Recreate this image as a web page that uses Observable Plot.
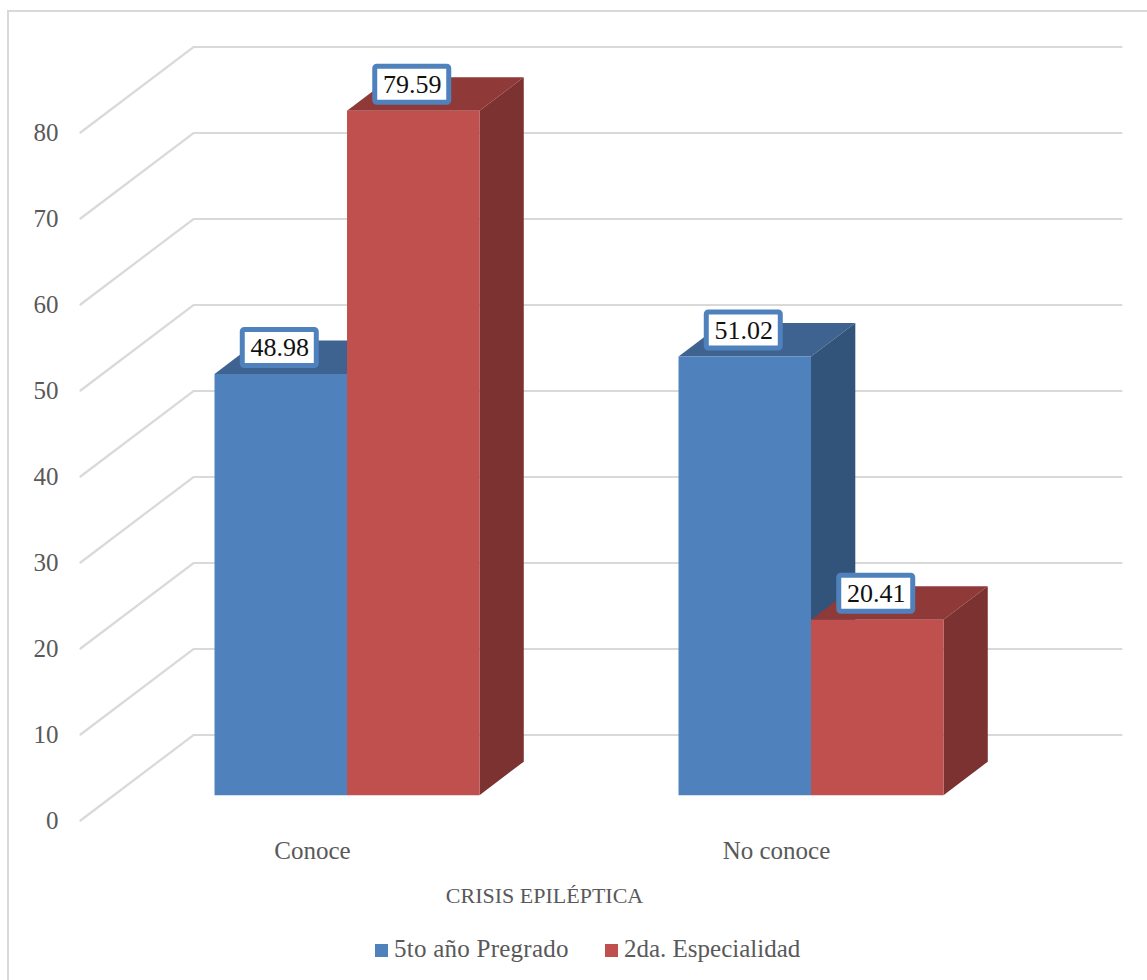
<!DOCTYPE html>
<html lang="es">
<head>
<meta charset="utf-8">
<script src="https://cdn.jsdelivr.net/npm/d3@7"></script>
<script src="https://cdn.jsdelivr.net/npm/@observablehq/plot@0.6"></script>
<style>
  html, body { margin: 0; padding: 0; width: 1147px; height: 980px; overflow: hidden; background: #fff; }
  .frame { position: absolute; left: 7px; top: 10px; width: 1160px; height: 990px; border: 2px solid #d9d9d9; box-sizing: border-box; }
  #chart { position: absolute; left: 0; top: 0; }
  #chart svg { background: transparent; display: block; }
  .legend { position: absolute; left: 0; top: 925px; height: 50px; width: 1147px; font: 25px "Liberation Serif", serif; color: #595959; }
  .legend span { position: absolute; top: 7px; white-space: nowrap; line-height: 34px; }
  .legend i { position: absolute; top: 19px; width: 13px; height: 13px; }
</style>
</head>
<body>
<div class="frame"></div>
<div id="chart"></div>
<div class="legend" id="legend"></div>
<script>
// Survey results: knowledge of epileptic seizures, by student group (%)
const categories = ["Conoce", "No conoce"];
const seriesNames = ["5to año Pregrado", "2da. Especialidad"];
const pregrado = [48.98, 51.02];
const especialidad = [79.59, 20.41];
const yTicks = [0, 10, 20, 30, 40, 50, 60, 70, 80];
const axisTitle = "CRISIS EPILÉPTICA";

// Oblique projection: one unit of depth shifts a point along x and y in data units
const depthX = 0.2435;
const depthY = 9.94;
const project = (p, v, d) => ({x: p + d * depthX, y: v + d * depthY});

// Column layout within each category slot, and its position along the depth axis
const gap = 0.2168, barWidth = 0.2855;
const depthFront = 0.296, depthBack = 0.688;

const palette = [
  {front: "#4f81bd", top: "#3f6390", side: "#32547b"},
  {front: "#c0504d", top: "#8f3a38", side: "#7b3230"}
];

// Three visible faces of a column as closed polygons, back faces first
function faces(cat, s, value) {
  const x0 = cat + gap + s * barWidth, x1 = x0 + barWidth;
  const id = `${cat}-${s}`;
  const c = palette[s];
  const poly = (face, pts) => pts.map(([p, v, d]) => ({...project(p, v, d), id: `${id}-${face}`, color: c[face]}));
  return [
    ...poly("top", [[x0, value, depthFront], [x1, value, depthFront], [x1, value, depthBack], [x0, value, depthBack]]),
    ...poly("side", [[x1, 0, depthFront], [x1, value, depthFront], [x1, value, depthBack], [x1, 0, depthBack]]),
    ...poly("front", [[x0, 0, depthFront], [x1, 0, depthFront], [x1, value, depthFront], [x0, value, depthFront]])
  ];
}

const seriesValues = [pregrado, especialidad];
const polygons = categories.flatMap((_, cat) =>
  seriesValues.flatMap((vals, s) => faces(cat, s, vals[cat])));

// Gridlines run up the left wall and then along the back wall
const grid = yTicks.flatMap(v => [
  {...project(0, v, 0), v},
  {...project(0, v, 1), v},
  {...project(2, v, 1), v}
]);

// Value labels sit centred above each column's front edge
const labelLift = 3.02, labelHalfW = 37 / 464, labelHalfH = 18 / 8.6;
const labels = categories.flatMap((_, cat) =>
  seriesValues.map((vals, s) => {
    const value = vals[cat];
    const cx = cat + gap + (s + 0.5) * barWidth + depthFront * depthX - 1 / 464;
    const cy = value + depthFront * depthY + labelLift;
    return {cx, cy, value};
  }));

const plot = Plot.plot({
  width: 1147,
  height: 925,
  marginLeft: 80,
  marginRight: 139,
  marginTop: 132,
  marginBottom: 105,
  style: {background: "transparent", fontFamily: '"Liberation Serif", serif'},
  x: {domain: [0, 2], axis: null},
  y: {domain: [0, 80], axis: null},
  color: {type: "identity"},
  marks: [
    Plot.line(grid, {x: "x", y: "y", z: "v", stroke: "#d9d9d9", strokeWidth: 2.2}),
    Plot.axisY({ticks: yTicks, anchor: "left", tickSize: 0, tickPadding: 22, fontSize: 25, color: "#595959", label: null}),
    Plot.axisX({ticks: [0.5, 1.5], anchor: "bottom", tickSize: 0, tickPadding: 0, tickFormat: d => categories[d - 0.5], lineAnchor: "middle", dy: 30, fontSize: 25, color: "#595959", label: null}),
    Plot.text([axisTitle], {x: () => 1, y: () => 0, text: d => d, dy: 75, fontSize: 22, fill: "#595959", lineAnchor: "middle"}),
    Plot.line(polygons, {x: "x", y: "y", z: "id", fill: "color", stroke: "none"}),
    Plot.rect(labels, {
      x1: d => d.cx - labelHalfW, x2: d => d.cx + labelHalfW,
      y1: d => d.cy - labelHalfH, y2: d => d.cy + labelHalfH,
      fill: "#fff", stroke: "#4f81bd", strokeWidth: 5, rx: 2
    }),
    Plot.text(labels, {x: "cx", y: "cy", text: d => d.value.toFixed(2), fontSize: 26, fill: "#111", lineAnchor: "middle"})
  ]
});
document.getElementById("chart").append(plot);

// Legend row beneath the plot
const legend = document.getElementById("legend");
[[375, 394, 0.25], [605, 624, 0]].forEach(([sx, tx, spacing], i) => {
  const sw = document.createElement("i");
  sw.style.left = sx + "px";
  sw.style.background = palette[i].front;
  const label = document.createElement("span");
  label.style.left = tx + "px";
  label.style.letterSpacing = spacing + "px";
  label.textContent = seriesNames[i];
  legend.append(sw, label);
});
</script>
</body>
</html>
